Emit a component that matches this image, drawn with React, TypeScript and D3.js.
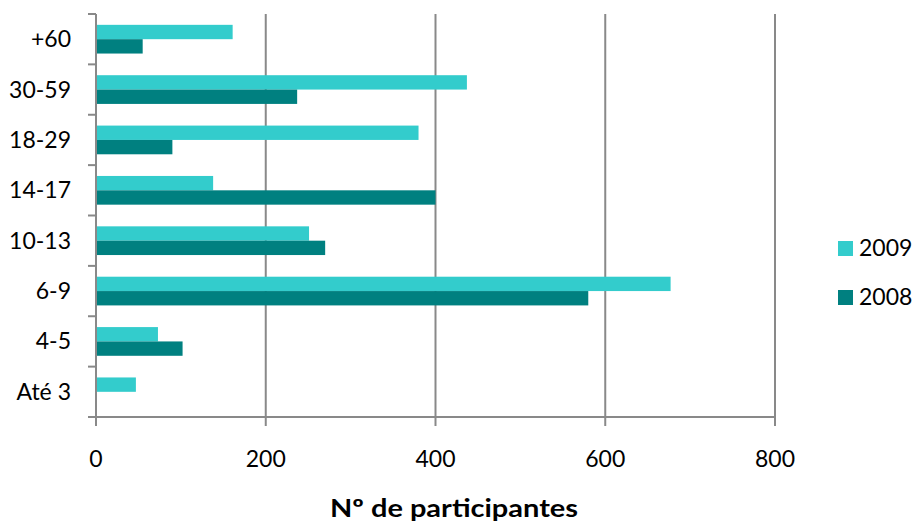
import * as d3 from 'd3'

const categories = ['+60', '30-59', '18-29', '14-17', '10-13', '6-9', '4-5', 'Até 3']
const values2009 = [161, 437, 380, 138, 251, 677, 73, 47]
const values2008 = [55, 237, 90, 400, 270, 580, 102, 0]
const seriesNames = ['2009', '2008']
const xTicks = [0, 200, 400, 600, 800]

const colors: Record<string, string> = { '2009': '#33cccc', '2008': '#008080' }

const W = 916
const H = 524
const margin = { top: 14, left: 96, right: 141, bottom: 107 }
const font = 'Lato, "Open Sans", sans-serif'
const axisColor = '#898989'

const App = () => {
    const innerW = W - margin.left - margin.right
    const innerH = H - margin.top - margin.bottom

    const x = d3.scaleLinear().domain([0, 800]).range([0, innerW])
    const y = d3
        .scaleBand<string>()
        .domain(categories)
        .range([0, innerH])
        .paddingInner(0.43)
        .paddingOuter(0.215)
    const sub = d3.scaleBand<string>().domain(seriesNames).range([0, y.bandwidth()])

    const rows = categories.map((c, i) => ({
        cat: c,
        vals: [
            { key: '2009', v: values2009[i] },
            { key: '2008', v: values2008[i] },
        ],
    }))

    const step = innerH / categories.length
    const boundaries = d3.range(categories.length + 1).map(i => i * step)

    return (
        <svg width={W} height={H} style={{ position: 'absolute', left: 0, top: 0 }}>
            <rect width={W} height={H} fill='#fff' />
            <g transform={`translate(${margin.left},${margin.top})`}>
                {/* vertical gridlines */}
                {xTicks.slice(1).map(t => (
                    <line
                        key={t}
                        x1={x(t)}
                        x2={x(t)}
                        y1={0}
                        y2={innerH}
                        stroke={axisColor}
                        strokeWidth={2}
                    />
                ))}

                {/* bars */}
                {rows.map(r => (
                    <g key={r.cat} transform={`translate(0,${y(r.cat)})`}>
                        {r.vals
                            .filter(d => d.v > 0)
                            .map(d => (
                                <rect
                                    key={d.key}
                                    x={0}
                                    y={sub(d.key)}
                                    width={x(d.v)}
                                    height={sub.bandwidth()}
                                    fill={colors[d.key]}
                                />
                            ))}
                    </g>
                ))}

                {/* axes */}
                <line x1={0} x2={0} y1={0} y2={innerH} stroke={axisColor} strokeWidth={2} />
                <line x1={0} x2={innerW} y1={innerH} y2={innerH} stroke={axisColor} strokeWidth={2} />
                {boundaries.map((b, i) => (
                    <line key={i} x1={-8} x2={0} y1={b} y2={b} stroke={axisColor} strokeWidth={2} />
                ))}
                {xTicks.map(t => (
                    <line
                        key={t}
                        x1={x(t)}
                        x2={x(t)}
                        y1={innerH}
                        y2={innerH + 9}
                        stroke={axisColor}
                        strokeWidth={2}
                    />
                ))}

                {/* labels */}
                {categories.map(c => (
                    <text
                        key={c}
                        x={-25}
                        y={(y(c) ?? 0) + y.bandwidth() / 2}
                        dy='0.35em'
                        textAnchor='end'
                        fontFamily={font}
                        fontSize={23}
                        fill='#000'
                    >
                        {c}
                    </text>
                ))}
                {xTicks.map(t => (
                    <text
                        key={t}
                        x={x(t)}
                        y={innerH + 50}
                        textAnchor='middle'
                        fontFamily={font}
                        fontSize={23}
                        fill='#000'
                    >
                        {t}
                    </text>
                ))}
            </g>

            <text
                x={454}
                y={517}
                textAnchor='middle'
                fontFamily={font}
                fontWeight='bold'
                fontSize={25}
                textLength={248}
                lengthAdjust='spacingAndGlyphs'
                fill='#000'
            >
                Nº de participantes
            </text>

            {/* legend */}
            {seriesNames.map((s, i) => (
                <g key={s} transform={`translate(838,${241 + i * 49})`}>
                    <rect width={15} height={15} fill={colors[s]} />
                    <text x={21} y={15} fontFamily={font} fontSize={23} fill='#000'>
                        {s}
                    </text>
                </g>
            ))}
        </svg>
    )
}

export default App
